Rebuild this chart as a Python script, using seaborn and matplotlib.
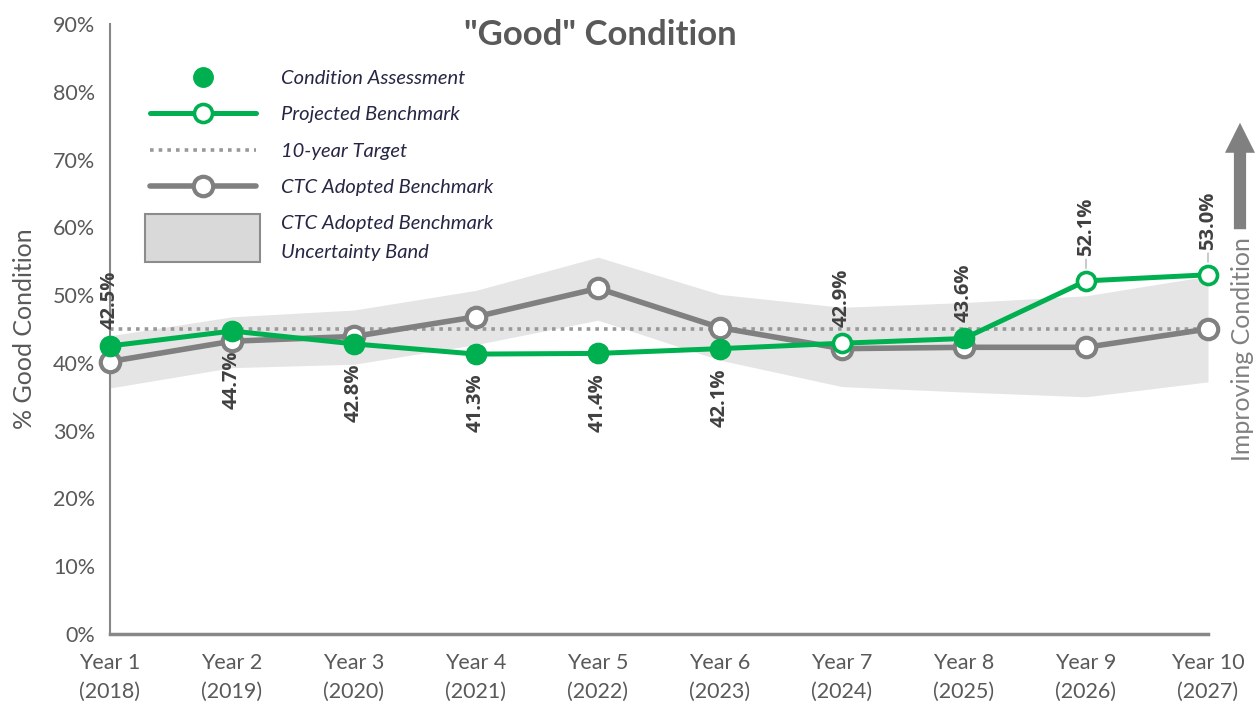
import matplotlib
matplotlib.use("Agg")
import numpy as np
import pandas as pd
import matplotlib.pyplot as plt
import matplotlib.ticker as mtick
from matplotlib.lines import Line2D
from matplotlib.patches import Patch, Rectangle
from matplotlib.legend_handler import HandlerPatch
import seaborn as sns

# --- data ---
YEARS = ["Year 1", "Year 2", "Year 3", "Year 4", "Year 5",
         "Year 6", "Year 7", "Year 8", "Year 9", "Year 10"]
CAL_YEARS = ["2018", "2019", "2020", "2021", "2022",
             "2023", "2024", "2025", "2026", "2027"]
PROJECTED = [42.5, 44.7, 42.8, 41.3, 41.4, 42.1, 42.9, 43.6, 52.1, 53.0]
ASSESSED_IDX = [0, 1, 2, 3, 4, 5, 7]
CTC = [40.2, 43.2, 43.9, 46.8, 51.0, 45.2, 42.1, 42.3, 42.3, 45.0]
BAND_LOW = [36.3, 39.3, 39.8, 42.7, 46.3, 40.4, 36.5, 35.7, 35.0, 37.2]
BAND_HIGH = [44.0, 46.8, 47.8, 50.7, 55.6, 50.1, 48.2, 48.9, 49.9, 52.8]
TARGET = 45.0

GREEN = "#00B050"
GREY = "#808080"
BAND = "#E5E5E5"
TXT = "#595959"
LBL = "#404040"
LEG_TXT = "#262645"

sns.set_theme(style="white")
plt.rcParams["font.family"] = ["Lato", "DejaVu Sans"]

df = pd.DataFrame({
    "x": np.arange(len(YEARS)),
    "projected": PROJECTED,
    "ctc": CTC,
    "low": BAND_LOW,
    "high": BAND_HIGH,
})
assessed = df.iloc[ASSESSED_IDX]

fig = plt.figure(figsize=(12.57, 7.07), dpi=100)
ax = fig.add_axes([110 / 1257, 73 / 707, 1098 / 1257, 610 / 707])

ax.fill_between(df["x"], df["low"], df["high"], color=BAND, lw=0, zorder=1)
ax.plot([df["x"].min(), df["x"].max()], [TARGET, TARGET], color="#999999",
        lw=2.6, ls=(0, (1, 1.4)), zorder=2)

sns.lineplot(data=df, x="x", y="ctc", ax=ax, color=GREY, lw=4,
             marker="o", markersize=14, markerfacecolor="white",
             markeredgecolor=GREY, markeredgewidth=3, zorder=3, clip_on=False)
sns.lineplot(data=df, x="x", y="projected", ax=ax, color=GREEN, lw=3.6,
             marker="o", markersize=13, markerfacecolor="white",
             markeredgecolor=GREEN, markeredgewidth=2.6, zorder=4, clip_on=False)
ax.plot(assessed["x"], assessed["projected"], ls="none", marker="o",
        markersize=14, color=GREEN, zorder=5, clip_on=False)

# data labels
lbl_kw = dict(textcoords="offset points", rotation=90, ha="center",
              fontsize=14.5, fontweight="bold", color=LBL,
              family=["Open Sans", "DejaVu Sans"], zorder=6)
for i, v in enumerate(PROJECTED):
    txt = f"{v:.1f}%"
    if i >= 8:
        ax.annotate(txt, (i, v), xytext=(0, 18), va="bottom",
                    arrowprops=dict(arrowstyle="-", color="#a0a0a0", lw=0.8,
                                    shrinkA=0, shrinkB=9), **lbl_kw)
    elif i == 0 or i >= 6:
        ax.annotate(txt, (i, v), xytext=(0, 12), va="bottom", **lbl_kw)
    else:
        ax.annotate(txt, (i, v), xytext=(0, -14), va="top", **lbl_kw)

ax.set_xlim(0, len(YEARS) - 1)
ax.set_ylim(0, 90)
ax.set_xticks(df["x"])
ax.set_xticklabels([f"{y}\n({c})" for y, c in zip(YEARS, CAL_YEARS)],
                   linespacing=1.55)
ax.set_yticks(np.arange(0, 91, 10))
ax.yaxis.set_major_formatter(mtick.FuncFormatter(lambda v, _: f"{v:.0f}%"))
ax.tick_params(axis="both", colors="#878787", labelcolor=TXT, labelsize=15.5,
               direction="out", length=7, width=1.5)
ax.tick_params(axis="x", pad=7)
ax.set_xlabel("")
ax.set_ylabel("% Good Condition", fontsize=18, color=TXT)
ax.yaxis.set_label_coords(-0.0674, 0.5)
for side in ["top", "right"]:
    ax.spines[side].set_visible(False)
ax.spines["left"].set_color("#878787")
ax.spines["left"].set_linewidth(1.5)
ax.spines["bottom"].set_color("#878787")
ax.spines["bottom"].set_linewidth(2.5)
ax.grid(False)

fig.text(600 / 1257, 1 - 35 / 707, '"Good" Condition', ha="center", va="center",
         fontsize=25, fontweight="bold", color=TXT)

# right-hand arrow
ax.annotate("", xy=(1240 / 1257, 1 - 120 / 707), xytext=(1240 / 1257, 1 - 232 / 707),
            xycoords="figure fraction", textcoords="figure fraction",
            arrowprops=dict(arrowstyle="simple,head_width=1.35,head_length=1.35,tail_width=0.55",
                            mutation_scale=16, color=GREY, lw=0))
fig.text(1243 / 1257, 1 - 349 / 707, "Improving Condition", rotation=90,
         ha="center", va="center", fontsize=18, color=GREY)


def tall_box(legend, orig_handle, xdescent, ydescent, width, height, fontsize):
    h = height * 3.4
    return Rectangle((-xdescent - 3.4, -ydescent - (h - height) / 2), width + 6.8, h)


handles = [
    Line2D([], [], ls="none", marker="o", markersize=14, color=GREEN),
    Line2D([], [], color=GREEN, lw=3.6, marker="o", markersize=13,
           markerfacecolor="white", markeredgecolor=GREEN, markeredgewidth=2.6),
    Line2D([], [], color="#999999", lw=2.6, ls=(0, (1, 1.4))),
    Line2D([], [], color=GREY, lw=4, marker="o", markersize=14,
           markerfacecolor="white", markeredgecolor=GREY, markeredgewidth=3),
    Patch(facecolor="#D9D9D9", edgecolor="#8C8C8C", lw=1.5),
]
labels = ["Condition Assessment", "Projected Benchmark", "10-year Target",
          "CTC Adopted Benchmark", "CTC Adopted Benchmark\nUncertainty Band"]
leg = ax.legend(handles, labels, loc="upper left",
                bbox_to_anchor=(40 / 1098, (634 - 70) / 610),
                frameon=False, handlelength=5.25, handletextpad=1.25,
                labelspacing=0.95, borderpad=0, borderaxespad=0,
                prop={"size": 14.5, "style": "italic"},
                handler_map={Patch: HandlerPatch(patch_func=tall_box)})
for t in leg.get_texts():
    t.set_color(LEG_TXT)
    t.set_linespacing(1.85)

fig.savefig("out.png", dpi=100)
